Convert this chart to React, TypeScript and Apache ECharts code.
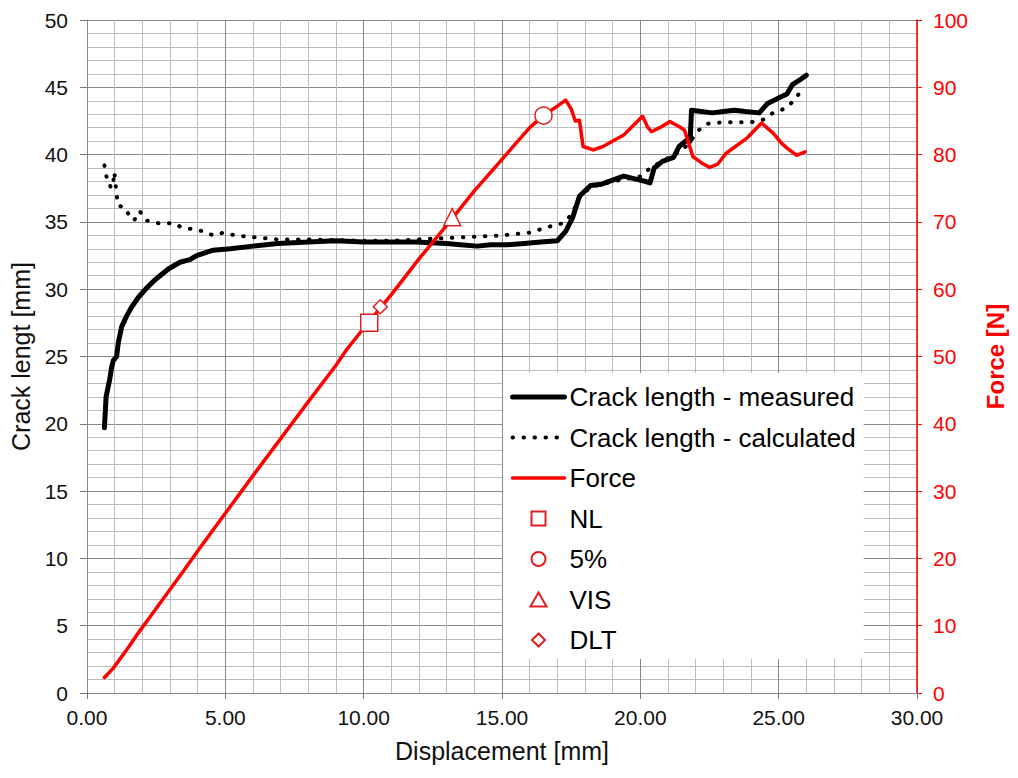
import React, { useEffect, useRef } from "react";
import * as echarts from "echarts";

// Crack length - measured [displacement mm, crack length mm]
const measuredX = [0.63, 0.69, 0.75, 0.82, 0.89, 0.95, 1.07, 1.13, 1.25, 1.43, 1.62, 1.86, 2.16, 2.46, 2.94, 3.36, 3.72, 3.96, 4.56, 5.17, 6.0, 6.9, 8.0, 9.0, 10.0, 11.0, 11.9, 13.0, 13.5, 14.1, 14.6, 15.2, 15.8, 16.4, 17.0, 17.3, 17.55, 17.8, 18.2, 18.6, 19.0, 19.4, 19.8, 20.2, 20.35, 20.5, 20.8, 21.2, 21.4, 21.7, 21.8, 21.85, 22.2, 22.6, 23.0, 23.4, 23.8, 24.3, 24.6, 25.0, 25.3, 25.5, 25.8, 26.0];
const measuredY = [19.7, 22.0, 22.6, 23.3, 24.2, 24.7, 25.0, 26.0, 27.2, 28.0, 28.7, 29.4, 30.1, 30.7, 31.5, 32.0, 32.2, 32.5, 32.9, 33.0, 33.2, 33.4, 33.5, 33.6, 33.5, 33.5, 33.5, 33.4, 33.3, 33.2, 33.3, 33.3, 33.4, 33.5, 33.6, 34.3, 35.3, 36.9, 37.7, 37.8, 38.1, 38.4, 38.2, 38.0, 37.9, 39.0, 39.5, 39.8, 40.6, 41.1, 41.0, 43.3, 43.2, 43.1, 43.2, 43.3, 43.2, 43.1, 43.8, 44.2, 44.5, 45.2, 45.6, 45.9];

// Crack length - calculated
const calcX = [0.63, 0.71, 0.8, 0.86, 0.95, 0.99, 1.07, 1.13, 1.35, 1.55, 1.7, 1.9, 2.16, 2.58, 3.12, 3.42, 3.84, 4.2, 4.56, 4.93, 5.35, 6.07, 6.86, 8.0, 9.0, 10.0, 11.0, 12.0, 13.0, 14.0, 15.0, 16.0, 16.8, 17.2, 17.5, 17.8, 18.2, 18.6, 19.0, 19.5, 20.05, 20.35, 20.7, 21.4, 21.7, 22.1, 22.45, 23.0, 23.5, 24.0, 24.45, 24.8, 25.2, 25.5, 25.8];
const calcY = [39.2, 38.3, 38.1, 37.5, 38.0, 38.7, 37.0, 36.2, 36.1, 35.4, 35.1, 35.8, 35.1, 34.9, 34.9, 34.6, 34.45, 34.3, 34.0, 34.2, 34.0, 33.85, 33.7, 33.7, 33.65, 33.6, 33.6, 33.7, 33.8, 33.9, 34.0, 34.2, 34.7, 34.9, 35.5, 36.8, 37.6, 37.8, 38.0, 38.2, 38.4, 39.0, 39.4, 40.2, 40.7, 41.8, 42.3, 42.4, 42.4, 42.4, 42.6, 43.1, 43.4, 43.9, 44.7];

// Force [N]
const forceX = [0.63, 0.95, 1.5, 1.85, 2.4, 2.94, 3.5, 4.02, 5.0, 6.0, 7.0, 8.0, 9.0, 9.38, 10.0, 11.0, 12.0, 13.0, 14.0, 15.0, 16.0, 16.5, 17.0, 17.3, 17.5, 17.65, 17.8, 17.93, 18.3, 18.65, 19.4, 20.08, 20.25, 20.4, 20.7, 21.07, 21.43, 21.6, 21.9, 22.2, 22.5, 22.8, 23.1, 23.84, 24.38, 24.8, 25.1, 25.29, 25.65, 25.95];
const forceY = [2.3, 3.7, 6.8, 8.9, 12.0, 15.05, 18.2, 21.2, 26.7, 32.3, 37.8, 43.3, 48.7, 51.0, 54.2, 59.2, 64.5, 69.5, 74.6, 79.3, 84.0, 85.8, 87.2, 88.1, 86.8, 85.0, 85.1, 81.2, 80.7, 81.2, 82.9, 85.7, 84.2, 83.4, 84.0, 84.9, 84.1, 83.6, 79.7, 78.8, 78.1, 78.6, 80.2, 82.4, 84.7, 83.2, 81.7, 81.0, 79.9, 80.4];

// Markers [displacement, force]
const markerNames = ["NL", "5%", "VIS", "DLT"];
const markerSymbols = ["rect", "circle", "triangle", "diamond"];
const markerSizes = [17, 17, 17, 14];
const markerX = [10.2, 16.5, 13.2, 10.6];
const markerY = [55.0, 85.8, 70.7, 57.4];

const seriesNames = ["Crack length - measured", "Crack length - calculated", "Force"];

const xTicks = { min: 0, max: 30, interval: 5 };
const leftTicks = { min: 0, max: 50, interval: 5 };
const rightTicks = { min: 0, max: 100, interval: 10 };

const FONT = "'Liberation Sans', Arial, sans-serif";
const RED = "#ff0000";

// legend icons drawn inside a 52x16 frame (first two moveTo points fix the frame)
const FRAME = "M0,0 M52,16 ";
const legendIcons = [
  "path://" + FRAME + "M19,1 L33,1 L33,15 L19,15 Z",
  "path://" + FRAME + "M19,8 A7,7 0 1,1 33,8 A7,7 0 1,1 19,8 Z",
  "path://" + FRAME + "M26,1 L34,15 L18,15 Z",
  "path://" + FRAME + "M26,1.5 L32.5,8 L26,14.5 L19.5,8 Z",
];

const zip = (xs: number[], ys: number[]) => xs.map((x, i) => [x, ys[i]]);

export default function App() {
  const ref = useRef<HTMLDivElement>(null);
  useEffect(() => {
    if (!ref.current) return;
    const chart = echarts.init(ref.current, null, { renderer: "svg" });
    const markerSeries = markerNames.map((n, i) => ({
      name: n,
      type: "scatter",
      yAxisIndex: 1,
      symbol: markerSymbols[i],
      symbolSize: markerSizes[i],
      z: 5,
      itemStyle: { color: "#ffffff", borderColor: "#e02020", borderWidth: 1.5, opacity: 1 },
      data: [[markerX[i], markerY[i]]],
    }));
    const legendData = [
      { name: seriesNames[0], itemStyle: { opacity: 0 }, lineStyle: { width: 5 } },
      { name: seriesNames[1], itemStyle: { opacity: 0 }, lineStyle: { width: 4 } },
      { name: seriesNames[2], itemStyle: { opacity: 0 }, lineStyle: { width: 3.5 } },
      ...markerNames.map((n, i) => ({ name: n, icon: legendIcons[i] })),
    ];
    chart.setOption({
      animation: false,
      backgroundColor: "#ffffff",
      grid: { left: 87, right: 101, top: 20, bottom: 85, containLabel: false },
      xAxis: {
        type: "value",
        ...xTicks,
        name: "Displacement [mm]",
        nameLocation: "middle",
        nameGap: 45,
        nameTextStyle: { fontSize: 25, color: "#111", fontFamily: FONT },
        axisLine: { lineStyle: { color: "#888", width: 1 } },
        axisTick: { show: true, length: 6, lineStyle: { color: "#777" } },
        axisLabel: { fontSize: 21, color: "#111", fontFamily: FONT, margin: 14, formatter: (v: number) => v.toFixed(2) },
        splitLine: { show: true, lineStyle: { color: "#8a8a8a", width: 1 } },
        minorTick: { show: false, splitNumber: 5 },
        minorSplitLine: { show: true, lineStyle: { color: "#bdbdbd", width: 1 } },
      },
      yAxis: [
        {
          type: "value",
          ...leftTicks,
          name: "Crack lengt [mm]",
          nameLocation: "middle",
          nameRotate: 90,
          nameGap: 52,
          nameTextStyle: { fontSize: 25, color: "#111", fontFamily: FONT },
          axisLine: { show: true, lineStyle: { color: "#888", width: 1 } },
          axisTick: { show: true, length: 7, lineStyle: { color: "#777" } },
          axisLabel: { fontSize: 21, color: "#111", fontFamily: FONT, margin: 19 },
          splitLine: { show: true, lineStyle: { color: "#8a8a8a", width: 1 } },
          minorTick: { show: false, splitNumber: 5 },
          minorSplitLine: { show: true, lineStyle: { color: "#bdbdbd", width: 1 } },
        },
        {
          type: "value",
          ...rightTicks,
          position: "right",
          name: "Force [N]",
          nameLocation: "middle",
          nameRotate: 90,
          nameGap: 66,
          nameTextStyle: { fontSize: 24, color: RED, fontFamily: FONT, fontWeight: "bold" },
          axisLine: { show: true, lineStyle: { color: RED, width: 1.5 } },
          axisTick: { show: true, length: 5, lineStyle: { color: RED } },
          axisLabel: { fontSize: 21, color: RED, fontFamily: FONT, margin: 16 },
          splitLine: { show: false },
        },
      ],
      legend: {
        orient: "vertical",
        left: 503,
        top: 373,
        backgroundColor: "#ffffff",
        padding: [9, 8, 4, 7],
        itemWidth: 52,
        itemHeight: 16,
        itemGap: 10.5,
        selectedMode: false,
        textStyle: { fontSize: 26, color: "#000", fontFamily: FONT, lineHeight: 30 },
        data: legendData,
        z: 10,
      },
      series: [
        {
          name: seriesNames[0],
          type: "line",
          yAxisIndex: 0,
          symbol: "none",
          z: 2,
          lineStyle: { color: "#000000", width: 5, cap: "round", join: "round" },
          itemStyle: { color: "#000000" },
          data: zip(measuredX, measuredY),
        },
        {
          name: seriesNames[1],
          type: "line",
          yAxisIndex: 0,
          symbol: "none",
          z: 2,
          lineStyle: { color: "#000000", width: 4, type: [0.5, 10.5], cap: "round" },
          itemStyle: { color: "#000000" },
          data: zip(calcX, calcY),
        },
        {
          name: seriesNames[2],
          type: "line",
          yAxisIndex: 1,
          symbol: "none",
          z: 3,
          lineStyle: { color: RED, width: 3.5, cap: "round", join: "round" },
          itemStyle: { color: RED },
          data: zip(forceX, forceY),
        },
        ...markerSeries,
      ],
    });
    return () => chart.dispose();
  }, []);
  return (
    <div
      ref={ref}
      style={{ position: "absolute", left: 0, top: 0, width: 1018, height: 778, background: "#fff" }}
    />
  );
}
